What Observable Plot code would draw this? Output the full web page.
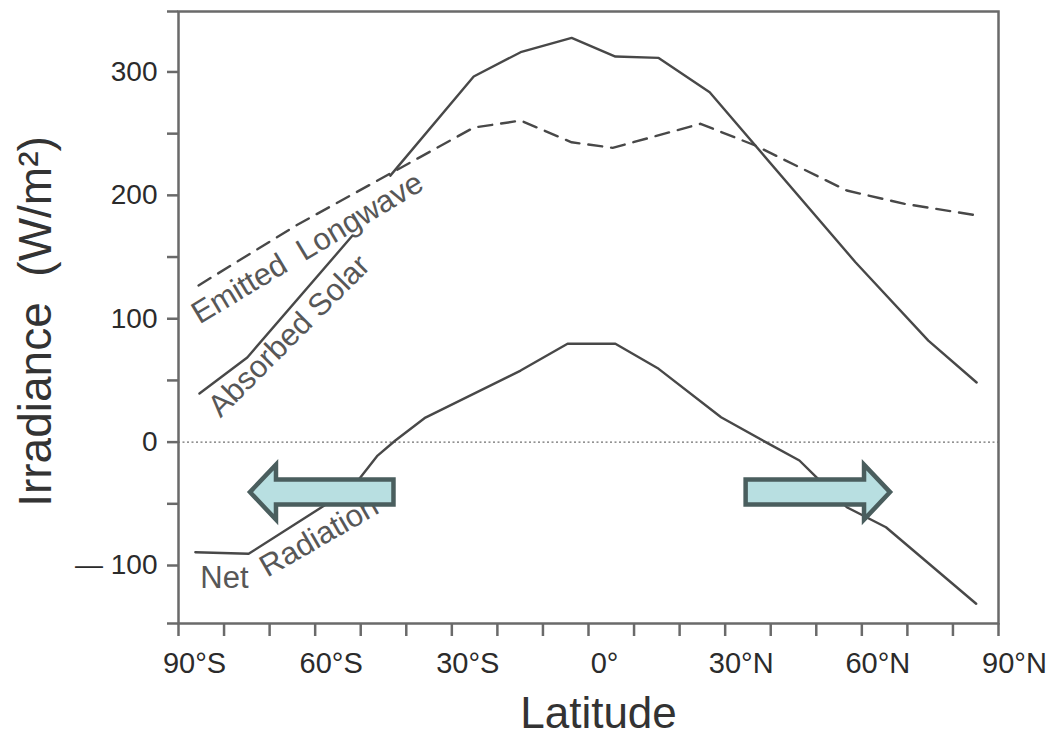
<!DOCTYPE html>
<html>
<head>
<meta charset="utf-8">
<script src="https://cdn.jsdelivr.net/npm/d3@7"></script>
<script src="https://cdn.jsdelivr.net/npm/@observablehq/plot@0.6"></script>
<style>
  html, body { margin: 0; padding: 0; background: #ffffff; }
</style>
</head>
<body>
<div id="chart"></div>
<script>
// ---- data ----
const latAbsorbed = [-85.4, -74.9, -51.8, -47.6, -43.5, -25.2, -14.9, -3.7, 5.9, 15.4, 26.6, 58.6, 74.6, 85.2];
const absorbedSolar = [39.4, 68.6, 167.4, NaN, 216, 296.3, 316, 327.6, 312.5, 311.4, 283.5, 145.8, 82.3, 48.3];

const latEmitted = [-85.6, -64.0, -43.5, -25.2, -14.9, -3.7, 5.3, 24.6, 36.6, 56.7, 69.4, 85.5];
const emittedLongwave = [127, 176, 217.7, 254.9, 260.6, 243, 238.5, 258, 240.4, 203.9, 193.1, 183.6];

const latNet = [-86.3, -74.6, -51.8, -46.3, -42.4, -35.8, -14.9, -4.6, 5.9, 15.4, 29.1, 38.9, 46.3, 50.0, 56.7, 65.3, 85.1];
const netRadiation = [-89.2, -90.5, -36.8, -10.9, 1.3, 19.9, 58, 79.7, 79.7, 59.4, 20.2, 0, -14.9, -28.4, -52.8, -69, -131];

const xTicks = [-90, -80, -70, -60, -50, -40, -30, -20, -10, 0, 10, 20, 30, 40, 50, 60, 70, 80, 90];
const xLabelLats = [-90, -60, -30, 0, 30, 60, 90];
const xLabelTexts = ["90°S", "60°S", "30°S", "0°", "30°N", "60°N", "90°N"];

const yDomain = [-147, 349];
const yTicks = [-100, -50, 0, 50, 100, 150, 200, 250, 300];
const yLabelValues = [-100, 0, 100, 200, 300];

const labelTexts = ["Emitted  Longwave", "Absorbed Solar", "Net", "Radiation"];
const labelLats = [-85.4, -80.8, -85.2, -70.5];
const labelValues = [95.3, 19.1, -118.3, -109.9];
const labelAngles = [-31, -45, 0, -30];

const arrowTail = [-42.7, 34.6];
const arrowTip = [-74.2, 66.3];
const arrowValue = [-40.9, -40.9];

const xTitle = "Latitude";
const yTitle = "Irradiance  (W/m²)";

// ---- tables built from the arrays ----
const absorbedData = latAbsorbed.map((lat, i) => ({lat, value: absorbedSolar[i]}));
const emittedData = latEmitted.map((lat, i) => ({lat, value: emittedLongwave[i]}));
const netData = latNet.map((lat, i) => ({lat, value: netRadiation[i]}));
const labels = labelTexts.map((text, i) => ({text, lat: labelLats[i], value: labelValues[i], rotate: labelAngles[i]}));
const arrows = arrowTail.map((tail, i) => ({tail, tip: arrowTip[i], value: arrowValue[i]}));

const xLabelMap = new Map(xLabelLats.map((d, i) => [d, xLabelTexts[i]]));
const yFormat = d => yLabelValues.includes(d) ? (d < 0 ? "\u2014 " + (-d) : String(d)) : "";

const axisColor = "#6a6a6a";
const lineColor = "#484848";
const font = "'Liberation Sans', Arial, Helvetica, sans-serif";

const chart = Plot.plot({
  width: 1052,
  height: 738,
  marginLeft: 178,
  marginRight: 54,
  marginTop: 11,
  marginBottom: 115,
  style: {fontFamily: font, background: "#ffffff", color: "#2b2b2b"},
  x: {domain: [-90, 90]},
  y: {domain: yDomain},
  marks: [
    // y axis ticks (including frame-end ticks) and labels
    Plot.axisY([yDomain[0], ...yTicks, yDomain[1]], {
      tickSize: 11, tickPadding: 10, tickFormat: yFormat, fontSize: 28,
      stroke: axisColor, strokeWidth: 2.5, fill: "#2b2b2b", label: null
    }),
    // x axis ticks
    Plot.axisX(xTicks, {tickSize: 13, stroke: axisColor, strokeWidth: 2.5, fill: "none", label: null, tickFormat: () => ""}),
    // x axis labels (offset to the right as in the reference)
    Plot.axisX(xLabelLats, {tickSize: 0, tickPadding: 29, dx: 16, fontSize: 29, fill: "#2b2b2b",
      tickFormat: d => xLabelMap.get(d), label: null}),
    // zero line
    Plot.ruleY([0], {stroke: "#6f6f6f", strokeWidth: 1.2, strokeDasharray: "2,2.5"}),
    // series
    Plot.line(emittedData, {x: "lat", y: "value", stroke: lineColor, strokeWidth: 2.4, strokeDasharray: "14,9"}),
    Plot.line(absorbedData, {x: "lat", y: "value", stroke: lineColor, strokeWidth: 2.4}),
    Plot.line(netData, {x: "lat", y: "value", stroke: lineColor, strokeWidth: 2.4}),
    // series labels
    Plot.text(labels, {x: "lat", y: "value", text: "text", rotate: "rotate",
      textAnchor: "start", lineAnchor: "bottom", fontSize: 31, fill: "#575757"}),
    // block arrows
    Plot.dot(arrows, {
      x: "tip", y: "value", r: 0,
      render(index, scales) {
        const g = d3.create("svg:g");
        for (const i of index) {
          const d = arrows[i];
          const x0 = scales.x(d.tail), x1 = scales.x(d.tip), y = scales.y(d.value);
          const dir = Math.sign(x1 - x0);
          const head = 26, sh = 12.5, hh = 27.5;
          const xb = x1 - dir * head;
          const pts = [[x0, y - sh], [xb, y - sh], [xb, y - hh], [x1, y], [xb, y + hh], [xb, y + sh], [x0, y + sh]];
          g.append("path")
            .attr("d", "M" + pts.map(p => p.join(",")).join("L") + "Z")
            .attr("fill", "#b8dfe1")
            .attr("stroke", "#4a5e5e")
            .attr("stroke-width", 4.5)
            .attr("stroke-linejoin", "miter");
        }
        return g.node();
      }
    }),
    // frame
    Plot.frame({stroke: axisColor, strokeWidth: 2.5}),
    // axis titles
    Plot.text([yTitle], {frameAnchor: "left", rotate: -90, dx: -128, dy: 4, textAnchor: "middle",
      lineAnchor: "bottom", fontSize: 46, fill: "#333"}),
    Plot.text([xTitle], {frameAnchor: "bottom", dx: 10, dy: 104, textAnchor: "middle",
      lineAnchor: "bottom", fontSize: 44, fill: "#333"})
  ]
});
document.getElementById("chart").append(chart);
</script>
</body>
</html>
